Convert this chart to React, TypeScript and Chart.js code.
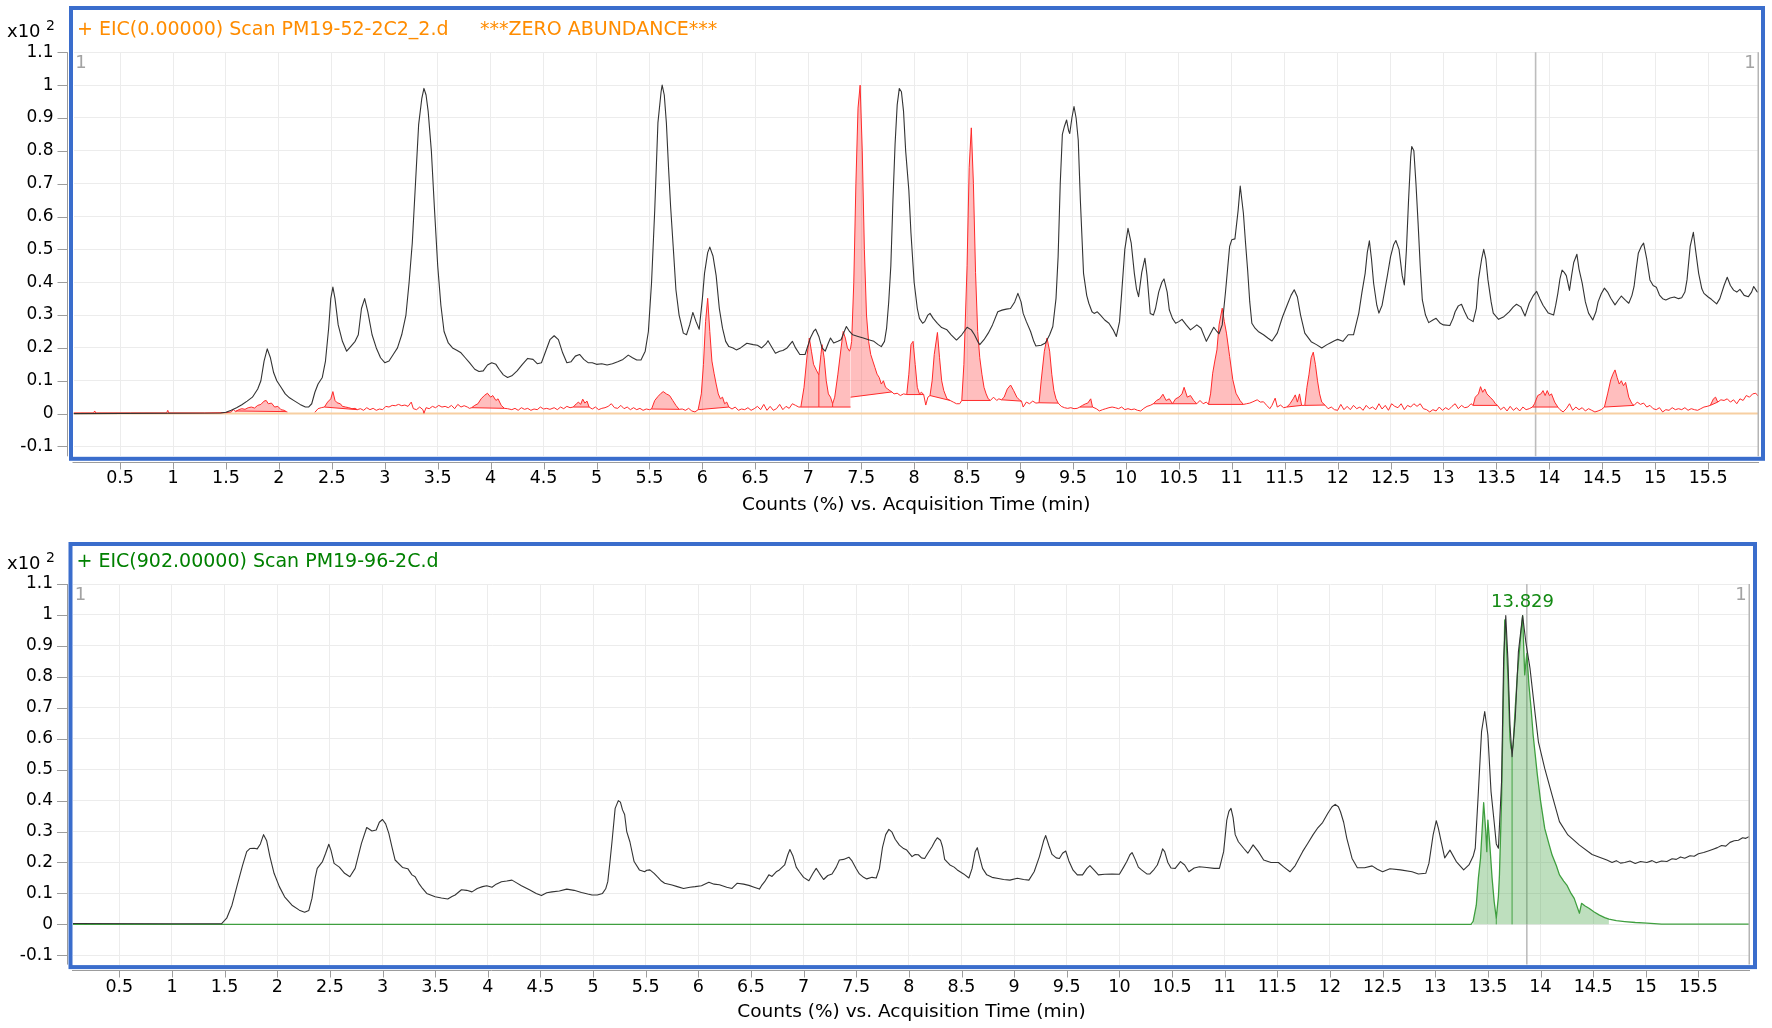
import React, { useEffect, useRef } from "react";
import { Chart, registerables } from "chart.js";

Chart.register(...registerables);

type Pt = [number, number | null];
type Integration = [number, number, number, number]; // start, end, baseline at start, baseline at end
type Drop = [number, number, number]; // time, baseline value, curve value

const FONT = '"DejaVu Sans", "Liberation Sans", Arial, sans-serif';

const xTickValues = [0.5, 1, 1.5, 2, 2.5, 3, 3.5, 4, 4.5, 5, 5.5, 6, 6.5, 7, 7.5, 8, 8.5, 9, 9.5, 10, 10.5, 11, 11.5, 12, 12.5, 13, 13.5, 14, 14.5, 15, 15.5];
const yTickValues = [-0.1, 0, 0.1, 0.2, 0.3, 0.4, 0.5, 0.6, 0.7, 0.8, 0.9, 1, 1.1];

const axisTitle = "Counts (%) vs. Acquisition Time (min)";
const topTitle = "+ EIC(0.00000) Scan PM19-52-2C2_2.d";
const topNote = "***ZERO ABUNDANCE***";
const bottomTitle = "+ EIC(902.00000) Scan PM19-96-2C.d";
const cursorTime = 13.87;
const peakLabelTime = 13.829;
const peakLabelValue = 1.042;
const peakLabelText = "13.829";

// ---------- top panel: TIC (black) ----------
const topTic: Pt[] = [
  [0.06, 0], [1.45, 0.002], [1.5, 0.004], [1.55, 0.01], [1.6, 0.018], [1.65, 0.027], [1.7, 0.038], [1.75, 0.05], [1.8, 0.075], [1.83, 0.1], [1.86, 0.16], [1.89, 0.197], [1.92, 0.17], [1.95, 0.125], [1.98, 0.1], [2.02, 0.08], [2.06, 0.06], [2.1, 0.048], [2.15, 0.038], [2.2, 0.028], [2.25, 0.02], [2.28, 0.02], [2.31, 0.03], [2.34, 0.065], [2.37, 0.09], [2.41, 0.11], [2.44, 0.16], [2.47, 0.26], [2.49, 0.35], [2.51, 0.385], [2.53, 0.35], [2.56, 0.27], [2.6, 0.22], [2.64, 0.19], [2.68, 0.205], [2.72, 0.22], [2.75, 0.24], [2.78, 0.32], [2.81, 0.35], [2.84, 0.31], [2.88, 0.24], [2.92, 0.2], [2.96, 0.17], [3.0, 0.155], [3.04, 0.16], [3.08, 0.18], [3.12, 0.2], [3.16, 0.24], [3.2, 0.3], [3.23, 0.4], [3.26, 0.52], [3.29, 0.7], [3.32, 0.88], [3.35, 0.96], [3.37, 0.99], [3.39, 0.97], [3.41, 0.92], [3.44, 0.8], [3.47, 0.62], [3.5, 0.45], [3.53, 0.33], [3.56, 0.25], [3.6, 0.215], [3.64, 0.2], [3.68, 0.193], [3.72, 0.185], [3.76, 0.17], [3.8, 0.155], [3.85, 0.135], [3.89, 0.128], [3.93, 0.13], [3.97, 0.148], [4.01, 0.155], [4.05, 0.15], [4.08, 0.135], [4.12, 0.118], [4.16, 0.11], [4.2, 0.115], [4.25, 0.13], [4.3, 0.15], [4.35, 0.168], [4.4, 0.165], [4.44, 0.152], [4.48, 0.155], [4.52, 0.19], [4.56, 0.225], [4.6, 0.237], [4.64, 0.225], [4.68, 0.185], [4.72, 0.155], [4.76, 0.158], [4.8, 0.175], [4.84, 0.18], [4.88, 0.165], [4.92, 0.155], [4.96, 0.155], [5.0, 0.15], [5.05, 0.152], [5.1, 0.148], [5.15, 0.152], [5.2, 0.158], [5.25, 0.165], [5.3, 0.178], [5.34, 0.17], [5.38, 0.163], [5.42, 0.163], [5.46, 0.19], [5.49, 0.25], [5.52, 0.4], [5.55, 0.62], [5.58, 0.885], [5.61, 0.98], [5.62, 1.0], [5.64, 0.97], [5.66, 0.885], [5.68, 0.75], [5.7, 0.63], [5.73, 0.48], [5.75, 0.377], [5.78, 0.3], [5.82, 0.245], [5.85, 0.24], [5.88, 0.27], [5.91, 0.308], [5.94, 0.28], [5.97, 0.257], [6.0, 0.35], [6.02, 0.427], [6.05, 0.49], [6.07, 0.507], [6.1, 0.48], [6.13, 0.42], [6.16, 0.32], [6.19, 0.26], [6.22, 0.22], [6.25, 0.204], [6.29, 0.2], [6.32, 0.194], [6.36, 0.2], [6.42, 0.214], [6.48, 0.21], [6.52, 0.208], [6.56, 0.2], [6.6, 0.212], [6.62, 0.222], [6.66, 0.2], [6.69, 0.184], [6.73, 0.19], [6.76, 0.192], [6.8, 0.2], [6.85, 0.22], [6.88, 0.2], [6.92, 0.18], [6.97, 0.18], [7.0, 0.21], [7.02, 0.23], [7.05, 0.25], [7.07, 0.257], [7.1, 0.235], [7.13, 0.2], [7.16, 0.19], [7.19, 0.215], [7.21, 0.23], [7.24, 0.215], [7.28, 0.22], [7.31, 0.225], [7.34, 0.25], [7.36, 0.265], [7.39, 0.25], [7.42, 0.24], [7.47, 0.235], [7.52, 0.23], [7.57, 0.225], [7.62, 0.22], [7.66, 0.21], [7.69, 0.204], [7.72, 0.22], [7.74, 0.26], [7.76, 0.34], [7.78, 0.45], [7.8, 0.65], [7.82, 0.82], [7.84, 0.94], [7.86, 0.99], [7.88, 0.98], [7.9, 0.92], [7.92, 0.8], [7.95, 0.68], [7.97, 0.55], [8.0, 0.4], [8.03, 0.32], [8.05, 0.29], [8.08, 0.275], [8.1, 0.28], [8.13, 0.3], [8.15, 0.305], [8.18, 0.29], [8.22, 0.275], [8.26, 0.262], [8.31, 0.255], [8.35, 0.24], [8.4, 0.224], [8.45, 0.24], [8.5, 0.263], [8.54, 0.255], [8.57, 0.24], [8.6, 0.22], [8.62, 0.21], [8.66, 0.225], [8.7, 0.245], [8.74, 0.27], [8.79, 0.31], [8.83, 0.315], [8.87, 0.318], [8.91, 0.32], [8.95, 0.34], [8.98, 0.366], [9.01, 0.34], [9.03, 0.305], [9.06, 0.28], [9.1, 0.25], [9.13, 0.22], [9.15, 0.206], [9.2, 0.208], [9.24, 0.215], [9.28, 0.24], [9.31, 0.265], [9.34, 0.35], [9.36, 0.478], [9.38, 0.7], [9.4, 0.85], [9.42, 0.875], [9.44, 0.894], [9.46, 0.86], [9.47, 0.853], [9.49, 0.9], [9.51, 0.935], [9.53, 0.9], [9.55, 0.833], [9.57, 0.65], [9.6, 0.427], [9.63, 0.36], [9.65, 0.336], [9.68, 0.31], [9.7, 0.305], [9.73, 0.31], [9.76, 0.3], [9.8, 0.285], [9.84, 0.275], [9.88, 0.255], [9.91, 0.235], [9.94, 0.28], [9.96, 0.366], [9.99, 0.5], [10.02, 0.564], [10.05, 0.52], [10.08, 0.427], [10.1, 0.38], [10.12, 0.356], [10.15, 0.43], [10.18, 0.473], [10.2, 0.42], [10.23, 0.305], [10.26, 0.3], [10.28, 0.32], [10.31, 0.37], [10.34, 0.4], [10.36, 0.41], [10.39, 0.37], [10.41, 0.316], [10.44, 0.29], [10.47, 0.275], [10.5, 0.28], [10.53, 0.287], [10.57, 0.27], [10.61, 0.255], [10.65, 0.265], [10.67, 0.27], [10.71, 0.26], [10.76, 0.22], [10.8, 0.245], [10.83, 0.263], [10.86, 0.25], [10.88, 0.243], [10.91, 0.27], [10.94, 0.367], [10.98, 0.509], [11.0, 0.529], [11.03, 0.532], [11.06, 0.618], [11.08, 0.693], [11.11, 0.61], [11.13, 0.52], [11.15, 0.437], [11.17, 0.34], [11.19, 0.275], [11.22, 0.26], [11.25, 0.25], [11.3, 0.24], [11.34, 0.23], [11.38, 0.221], [11.43, 0.245], [11.48, 0.295], [11.53, 0.336], [11.56, 0.36], [11.59, 0.377], [11.62, 0.355], [11.65, 0.3], [11.69, 0.245], [11.75, 0.219], [11.8, 0.21], [11.85, 0.2], [11.9, 0.21], [11.93, 0.215], [11.97, 0.222], [12.0, 0.226], [12.05, 0.22], [12.1, 0.24], [12.15, 0.24], [12.2, 0.306], [12.23, 0.37], [12.26, 0.427], [12.28, 0.49], [12.3, 0.526], [12.32, 0.47], [12.34, 0.397], [12.37, 0.33], [12.39, 0.306], [12.42, 0.33], [12.44, 0.366], [12.47, 0.42], [12.5, 0.478], [12.53, 0.515], [12.55, 0.527], [12.58, 0.5], [12.61, 0.42], [12.63, 0.392], [12.65, 0.5], [12.67, 0.65], [12.69, 0.78], [12.7, 0.813], [12.72, 0.8], [12.74, 0.7], [12.76, 0.58], [12.78, 0.45], [12.8, 0.346], [12.83, 0.3], [12.86, 0.277], [12.9, 0.285], [12.93, 0.29], [12.97, 0.275], [13.0, 0.27], [13.06, 0.268], [13.09, 0.29], [13.11, 0.31], [13.14, 0.328], [13.17, 0.333], [13.2, 0.31], [13.23, 0.29], [13.28, 0.28], [13.31, 0.32], [13.33, 0.407], [13.36, 0.47], [13.38, 0.5], [13.4, 0.47], [13.42, 0.407], [13.45, 0.34], [13.47, 0.306], [13.52, 0.287], [13.57, 0.295], [13.62, 0.31], [13.66, 0.325], [13.69, 0.333], [13.73, 0.325], [13.77, 0.297], [13.81, 0.336], [13.85, 0.36], [13.88, 0.372], [13.91, 0.35], [13.94, 0.33], [13.99, 0.306], [14.04, 0.3], [14.06, 0.33], [14.08, 0.366], [14.1, 0.41], [14.12, 0.437], [14.14, 0.43], [14.16, 0.42], [14.19, 0.375], [14.21, 0.42], [14.23, 0.46], [14.26, 0.485], [14.28, 0.44], [14.31, 0.397], [14.34, 0.34], [14.37, 0.306], [14.41, 0.285], [14.44, 0.31], [14.46, 0.34], [14.49, 0.365], [14.52, 0.382], [14.55, 0.37], [14.58, 0.351], [14.62, 0.331], [14.65, 0.345], [14.68, 0.358], [14.72, 0.345], [14.75, 0.336], [14.78, 0.36], [14.8, 0.387], [14.82, 0.44], [14.84, 0.488], [14.87, 0.51], [14.89, 0.519], [14.92, 0.47], [14.95, 0.407], [14.98, 0.39], [15.01, 0.385], [15.04, 0.361], [15.07, 0.35], [15.1, 0.346], [15.14, 0.352], [15.18, 0.355], [15.22, 0.35], [15.25, 0.353], [15.28, 0.37], [15.3, 0.407], [15.33, 0.509], [15.36, 0.552], [15.38, 0.5], [15.41, 0.427], [15.44, 0.38], [15.46, 0.366], [15.5, 0.355], [15.53, 0.348], [15.58, 0.334], [15.61, 0.35], [15.65, 0.39], [15.68, 0.415], [15.71, 0.39], [15.74, 0.376], [15.77, 0.37], [15.8, 0.378], [15.84, 0.36], [15.88, 0.356], [15.91, 0.37], [15.93, 0.387], [15.96, 0.372], [15.98, 0.368],
];

// ---------- top panel: EIC (red) ----------
const topEic: Pt[] = [
  [0.06, 0.002], [0.25, 0.002], [0.26, 0.008], [0.27, 0.002], [0.6, 0.002], [0.94, 0.002], [0.95, 0.01], [0.96, 0.002], [1.3, 0.002], [1.5, 0.003],
  [1.55, 0.005], [1.57, 0.012], [1.59, 0.006], [1.62, 0.012], [1.65, 0.015], [1.68, 0.013], [1.71, 0.018], [1.74, 0.02], [1.77, 0.017], [1.8, 0.025], [1.83, 0.028], [1.86, 0.038], [1.88, 0.04], [1.9, 0.03], [1.93, 0.032], [1.96, 0.02], [1.99, 0.022], [2.02, 0.012], [2.05, 0.01], [2.07, 0.006], [2.08, 0.005],
  [2.2, null],
  [2.34, 0.004], [2.37, 0.015], [2.4, 0.018], [2.43, 0.02], [2.46, 0.035], [2.49, 0.045], [2.51, 0.067], [2.53, 0.04], [2.55, 0.033], [2.58, 0.03], [2.6, 0.022], [2.63, 0.02], [2.66, 0.018], [2.69, 0.015], [2.72, 0.016], [2.74, 0.012], [2.77, 0.015], [2.8, 0.01], [2.83, 0.018], [2.86, 0.012], [2.89, 0.016], [2.92, 0.01], [2.95, 0.014], [2.98, 0.012], [3.01, 0.022], [3.04, 0.02], [3.07, 0.025], [3.1, 0.024], [3.13, 0.028], [3.16, 0.024], [3.19, 0.026], [3.22, 0.022], [3.25, 0.035], [3.27, 0.015], [3.3, 0.012], [3.33, 0.02], [3.36, 0.012], [3.37, 0.001], [3.39, 0.018], [3.42, 0.015], [3.45, 0.022], [3.48, 0.018], [3.51, 0.025], [3.54, 0.02], [3.57, 0.022], [3.6, 0.018], [3.63, 0.025], [3.66, 0.015], [3.69, 0.028], [3.72, 0.02], [3.75, 0.024], [3.78, 0.02], [3.8, 0.016], [3.82, 0.018],
  [3.85, 0.025], [3.88, 0.03], [3.91, 0.045], [3.94, 0.055], [3.97, 0.062], [4.0, 0.05], [4.02, 0.055], [4.05, 0.04], [4.07, 0.045], [4.1, 0.025], [4.13, 0.016],
  [4.16, 0.015], [4.2, 0.012], [4.23, 0.016], [4.26, 0.01], [4.29, 0.018], [4.32, 0.013], [4.35, 0.016], [4.38, 0.01], [4.41, 0.014], [4.44, 0.012], [4.47, 0.02], [4.5, 0.014], [4.53, 0.016], [4.56, 0.013], [4.6, 0.018], [4.63, 0.012], [4.66, 0.02], [4.69, 0.015], [4.72, 0.022], [4.75, 0.018], [4.78, 0.02],
  [4.81, 0.03], [4.83, 0.035], [4.85, 0.028], [4.87, 0.044], [4.89, 0.032], [4.91, 0.038], [4.93, 0.02],
  [4.96, 0.014], [4.99, 0.02], [5.02, 0.012], [5.05, 0.016], [5.08, 0.018], [5.11, 0.022], [5.14, 0.03], [5.17, 0.018], [5.2, 0.016], [5.23, 0.025], [5.26, 0.015], [5.29, 0.02], [5.32, 0.012], [5.35, 0.018], [5.38, 0.012], [5.41, 0.016], [5.44, 0.01], [5.47, 0.014], [5.5, 0.012], [5.52, 0.014],
  [5.55, 0.04], [5.58, 0.052], [5.61, 0.062], [5.63, 0.067], [5.66, 0.06], [5.69, 0.055], [5.72, 0.04], [5.75, 0.025], [5.78, 0.013],
  [5.81, 0.014], [5.84, 0.01], [5.87, 0.016], [5.9, 0.008], [5.93, 0.005],
  [5.96, 0.012], [5.99, 0.06], [6.01, 0.15], [6.03, 0.28], [6.05, 0.351], [6.07, 0.25], [6.09, 0.16], [6.11, 0.123], [6.13, 0.09], [6.15, 0.06], [6.17, 0.045], [6.19, 0.05], [6.21, 0.03], [6.23, 0.035], [6.25, 0.02],
  [6.28, 0.014], [6.31, 0.02], [6.34, 0.01], [6.37, 0.014], [6.4, 0.012], [6.43, 0.018], [6.46, 0.01], [6.49, 0.015], [6.52, 0.022], [6.55, 0.012], [6.58, 0.028], [6.61, 0.01], [6.64, 0.022], [6.67, 0.01], [6.7, 0.015], [6.73, 0.028], [6.76, 0.012], [6.79, 0.022], [6.82, 0.016], [6.85, 0.03], [6.88, 0.025], [6.91, 0.02], [6.93, 0.02],
  [6.96, 0.08], [6.99, 0.18], [7.01, 0.23], [7.03, 0.19], [7.05, 0.15], [7.08, 0.13], [7.1, 0.118], [7.12, 0.18], [7.13, 0.21], [7.15, 0.17], [7.17, 0.1], [7.19, 0.06], [7.21, 0.05], [7.23, 0.03], [7.25, 0.05], [7.28, 0.12], [7.31, 0.2], [7.33, 0.25], [7.35, 0.23], [7.37, 0.2], [7.39, 0.19], [7.4, 0.2],
  [7.41, 0.22], [7.43, 0.4], [7.45, 0.7], [7.47, 0.93], [7.49, 1.0], [7.51, 0.8], [7.53, 0.5], [7.55, 0.3], [7.57, 0.22], [7.59, 0.18], [7.61, 0.16], [7.63, 0.14], [7.65, 0.12], [7.67, 0.11], [7.69, 0.09], [7.71, 0.1], [7.73, 0.08], [7.75, 0.075], [7.77, 0.07], [7.79, 0.066],
  [7.81, 0.06], [7.84, 0.062], [7.87, 0.055], [7.9, 0.06], [7.93, 0.058],
  [7.95, 0.12], [7.97, 0.21], [7.99, 0.22], [8.01, 0.15], [8.03, 0.08], [8.05, 0.06], [8.07, 0.065], [8.09, 0.058],
  [8.11, 0.026], [8.13, 0.05], [8.15, 0.055],
  [8.17, 0.1], [8.19, 0.18], [8.22, 0.247], [8.24, 0.17], [8.26, 0.1], [8.28, 0.07], [8.31, 0.045], [8.34, 0.04],
  [8.37, 0.035], [8.4, 0.03], [8.43, 0.03], [8.45, 0.04],
  [8.47, 0.15], [8.5, 0.45], [8.52, 0.75], [8.54, 0.87], [8.56, 0.7], [8.58, 0.43], [8.6, 0.25], [8.62, 0.17], [8.64, 0.12], [8.66, 0.08], [8.68, 0.06], [8.7, 0.045], [8.72, 0.04],
  [8.75, 0.05], [8.78, 0.04], [8.8, 0.045], [8.825, 0.042],
  [8.85, 0.05], [8.88, 0.075], [8.911, 0.087], [8.94, 0.07], [8.97, 0.05], [9.0, 0.04], [9.014, 0.038],
  [9.03, 0.02], [9.06, 0.035], [9.09, 0.03], [9.12, 0.038], [9.15, 0.032], [9.18, 0.033],
  [9.2, 0.1], [9.23, 0.19], [9.255, 0.23], [9.28, 0.19], [9.3, 0.12], [9.32, 0.07], [9.34, 0.045], [9.36, 0.032],
  [9.39, 0.022], [9.42, 0.018], [9.45, 0.016], [9.48, 0.018], [9.51, 0.015], [9.54, 0.016], [9.565, 0.02],
  [9.59, 0.025], [9.62, 0.03], [9.64, 0.032], [9.668, 0.045], [9.685, 0.02],
  [9.72, 0.015], [9.75, 0.008], [9.78, 0.012], [9.81, 0.015], [9.84, 0.018], [9.87, 0.02], [9.9, 0.018], [9.93, 0.015], [9.96, 0.02], [9.99, 0.012], [10.02, 0.015], [10.05, 0.012], [10.08, 0.014], [10.11, 0.01], [10.14, 0.008], [10.17, 0.016], [10.2, 0.022], [10.23, 0.025], [10.26, 0.03],
  [10.29, 0.04], [10.32, 0.045], [10.35, 0.059], [10.38, 0.04], [10.41, 0.045], [10.44, 0.03], [10.47, 0.045], [10.5, 0.05], [10.53, 0.06], [10.55, 0.08], [10.58, 0.05], [10.61, 0.055], [10.64, 0.04], [10.67, 0.03],
  [10.7, 0.04], [10.73, 0.03], [10.76, 0.035], [10.78, 0.028],
  [10.8, 0.06], [10.82, 0.123], [10.84, 0.16], [10.86, 0.194], [10.88, 0.27], [10.91, 0.321], [10.93, 0.28], [10.95, 0.245], [10.98, 0.174], [11.01, 0.103], [11.04, 0.062], [11.08, 0.039], [11.11, 0.028],
  [11.14, 0.03], [11.17, 0.032], [11.2, 0.036], [11.24, 0.042], [11.27, 0.035], [11.3, 0.036], [11.33, 0.025], [11.36, 0.015], [11.38, 0.025], [11.41, 0.047], [11.43, 0.02], [11.46, 0.026], [11.49, 0.018], [11.52, 0.02],
  [11.55, 0.03], [11.58, 0.045], [11.6, 0.057], [11.62, 0.035], [11.64, 0.06], [11.66, 0.025],
  [11.69, 0.025], [11.71, 0.08], [11.73, 0.12], [11.75, 0.17], [11.77, 0.187], [11.79, 0.15], [11.81, 0.1], [11.83, 0.06], [11.85, 0.035], [11.88, 0.026],
  [11.91, 0.015], [11.94, 0.02], [11.97, 0.012], [12.0, 0.01], [12.03, 0.028], [12.06, 0.012], [12.09, 0.022], [12.12, 0.012], [12.15, 0.025], [12.18, 0.015], [12.21, 0.02], [12.24, 0.01], [12.27, 0.025], [12.3, 0.015], [12.33, 0.02], [12.36, 0.012], [12.39, 0.03], [12.42, 0.014], [12.45, 0.025], [12.48, 0.01], [12.51, 0.03], [12.54, 0.022], [12.57, 0.018], [12.6, 0.03], [12.63, 0.012], [12.66, 0.025], [12.69, 0.02], [12.72, 0.03], [12.75, 0.022], [12.78, 0.03], [12.81, 0.015], [12.84, 0.012], [12.87, 0.005], [12.9, 0.012], [12.93, 0.008], [12.96, 0.02], [12.99, 0.01], [13.02, 0.018], [13.05, 0.012], [13.08, 0.022], [13.11, 0.03], [13.14, 0.015], [13.17, 0.025], [13.2, 0.018], [13.23, 0.02], [13.26, 0.03], [13.28, 0.025],
  [13.3, 0.05], [13.33, 0.06], [13.35, 0.082], [13.37, 0.065], [13.39, 0.075], [13.41, 0.06], [13.44, 0.05], [13.47, 0.04], [13.49, 0.03], [13.51, 0.025],
  [13.54, 0.012], [13.57, 0.02], [13.6, 0.008], [13.63, 0.022], [13.66, 0.01], [13.69, 0.018], [13.72, 0.008], [13.75, 0.02], [13.78, 0.012], [13.81, 0.015], [13.84, 0.02],
  [13.86, 0.03], [13.89, 0.055], [13.92, 0.06], [13.94, 0.07], [13.96, 0.055], [13.98, 0.07], [14.0, 0.055], [14.02, 0.06], [14.05, 0.035], [14.08, 0.02],
  [14.1, 0.012], [14.13, 0.005], [14.16, 0.015], [14.19, 0.03], [14.22, 0.01], [14.25, 0.02], [14.28, 0.012], [14.31, 0.018], [14.34, 0.008], [14.37, 0.015], [14.4, 0.01], [14.43, 0.005], [14.46, 0.008], [14.49, 0.012], [14.52, 0.02],
  [14.55, 0.06], [14.58, 0.103], [14.6, 0.12], [14.62, 0.133], [14.64, 0.11], [14.66, 0.09], [14.68, 0.1], [14.7, 0.085], [14.72, 0.095], [14.75, 0.05], [14.78, 0.03], [14.8, 0.025],
  [14.83, 0.035], [14.86, 0.028], [14.89, 0.032], [14.92, 0.02], [14.95, 0.025], [14.98, 0.015], [15.01, 0.012], [15.04, 0.018], [15.07, 0.005], [15.1, 0.012], [15.13, 0.01], [15.16, 0.018], [15.19, 0.012], [15.22, 0.015], [15.25, 0.012], [15.28, 0.018], [15.31, 0.01], [15.34, 0.015], [15.37, 0.012], [15.4, 0.01], [15.43, 0.015], [15.46, 0.02], [15.49, 0.022],
  [15.52, 0.025], [15.55, 0.045], [15.57, 0.05], [15.59, 0.035],
  [15.62, 0.042], [15.65, 0.04], [15.68, 0.045], [15.71, 0.035], [15.74, 0.042], [15.77, 0.03], [15.8, 0.045], [15.83, 0.04], [15.86, 0.055], [15.89, 0.05], [15.92, 0.06], [15.95, 0.062], [15.98, 0.05],
];

// zero-abundance trace (orange)
const topZero: Pt[] = [[0.06, 0], [15.98, 0]];

const topIntegrations: Integration[] = [
  [1.59, 2.07, 0.008, 0.006], [2.43, 2.74, 0.02, 0.012], [3.82, 4.13, 0.018, 0.016], [4.78, 4.93, 0.02, 0.02],
  [5.52, 5.78, 0.014, 0.013], [5.96, 6.25, 0.012, 0.02], [6.93, 7.1, 0.02, 0.02], [7.1, 7.23, 0.02, 0.02],
  [7.23, 7.4, 0.02, 0.02], [7.4, 7.79, 0.05, 0.066], [7.93, 8.09, 0.058, 0.058], [8.15, 8.34, 0.055, 0.04],
  [8.45, 8.72, 0.04, 0.04], [8.825, 9.014, 0.042, 0.038], [9.18, 9.36, 0.033, 0.032], [9.565, 9.685, 0.02, 0.02],
  [10.26, 10.44, 0.03, 0.03], [10.44, 10.67, 0.03, 0.03], [10.78, 11.11, 0.028, 0.028], [11.52, 11.66, 0.02, 0.025],
  [11.69, 11.88, 0.025, 0.026], [13.28, 13.51, 0.025, 0.025], [13.84, 14.08, 0.02, 0.02], [14.52, 14.8, 0.02, 0.025],
  [15.52, 15.59, 0.025, 0.035],
];
const topDrops: Drop[] = [[7.1, 0.02, 0.118], [7.23, 0.02, 0.03]];

// ---------- bottom panel: TIC (black) ----------
const bottomTic: Pt[] = [
  [0.06, 0.003], [1.0, 0.002], [1.47, 0.002], [1.52, 0.02], [1.57, 0.062], [1.62, 0.127], [1.67, 0.19], [1.71, 0.235], [1.74, 0.245], [1.78, 0.246], [1.81, 0.244], [1.84, 0.26], [1.87, 0.29], [1.9, 0.27], [1.93, 0.22], [1.97, 0.165], [2.02, 0.122], [2.07, 0.089], [2.14, 0.062], [2.21, 0.046], [2.26, 0.039], [2.3, 0.045], [2.33, 0.084], [2.36, 0.15], [2.38, 0.181], [2.43, 0.203], [2.46, 0.23], [2.49, 0.259], [2.51, 0.24], [2.54, 0.197], [2.59, 0.185], [2.64, 0.165], [2.69, 0.154], [2.74, 0.181], [2.8, 0.262], [2.85, 0.313], [2.9, 0.302], [2.94, 0.305], [2.97, 0.33], [3.0, 0.339], [3.03, 0.325], [3.06, 0.294], [3.09, 0.25], [3.12, 0.208], [3.19, 0.184], [3.24, 0.18], [3.28, 0.16], [3.31, 0.154], [3.35, 0.13], [3.38, 0.116], [3.42, 0.1], [3.5, 0.089], [3.56, 0.085], [3.62, 0.082], [3.66, 0.09], [3.69, 0.095], [3.75, 0.112], [3.8, 0.11], [3.85, 0.105], [3.9, 0.116], [3.95, 0.122], [3.99, 0.125], [4.04, 0.12], [4.08, 0.13], [4.13, 0.138], [4.18, 0.14], [4.23, 0.143], [4.27, 0.135], [4.32, 0.125], [4.4, 0.111], [4.46, 0.1], [4.51, 0.093], [4.56, 0.102], [4.61, 0.105], [4.68, 0.108], [4.75, 0.114], [4.82, 0.11], [4.89, 0.103], [4.95, 0.098], [4.99, 0.095], [5.04, 0.095], [5.09, 0.1], [5.12, 0.115], [5.14, 0.138], [5.16, 0.2], [5.18, 0.267], [5.21, 0.375], [5.24, 0.4], [5.26, 0.395], [5.28, 0.37], [5.3, 0.355], [5.32, 0.3], [5.35, 0.267], [5.39, 0.203], [5.44, 0.176], [5.49, 0.17], [5.51, 0.175], [5.54, 0.176], [5.58, 0.165], [5.61, 0.154], [5.65, 0.14], [5.68, 0.133], [5.75, 0.127], [5.8, 0.122], [5.86, 0.116], [5.92, 0.12], [5.97, 0.122], [6.03, 0.125], [6.1, 0.136], [6.15, 0.13], [6.2, 0.128], [6.27, 0.12], [6.32, 0.116], [6.37, 0.133], [6.43, 0.13], [6.48, 0.126], [6.53, 0.12], [6.58, 0.114], [6.6, 0.125], [6.63, 0.138], [6.67, 0.16], [6.7, 0.155], [6.74, 0.17], [6.77, 0.176], [6.82, 0.192], [6.85, 0.225], [6.87, 0.242], [6.9, 0.22], [6.93, 0.185], [6.96, 0.17], [7.0, 0.152], [7.05, 0.141], [7.09, 0.165], [7.12, 0.181], [7.15, 0.165], [7.19, 0.145], [7.23, 0.158], [7.27, 0.163], [7.31, 0.185], [7.34, 0.208], [7.38, 0.21], [7.43, 0.217], [7.46, 0.205], [7.5, 0.18], [7.53, 0.163], [7.57, 0.152], [7.6, 0.147], [7.65, 0.152], [7.69, 0.15], [7.72, 0.18], [7.75, 0.25], [7.78, 0.29], [7.81, 0.307], [7.84, 0.298], [7.87, 0.275], [7.91, 0.256], [7.95, 0.245], [7.98, 0.24], [8.03, 0.219], [8.06, 0.226], [8.09, 0.225], [8.12, 0.215], [8.15, 0.213], [8.18, 0.23], [8.22, 0.251], [8.25, 0.27], [8.27, 0.28], [8.3, 0.272], [8.32, 0.25], [8.34, 0.21], [8.39, 0.192], [8.43, 0.185], [8.46, 0.176], [8.52, 0.163], [8.57, 0.15], [8.6, 0.18], [8.63, 0.235], [8.65, 0.248], [8.67, 0.22], [8.7, 0.181], [8.74, 0.16], [8.79, 0.152], [8.85, 0.148], [8.9, 0.145], [8.96, 0.143], [9.03, 0.149], [9.09, 0.145], [9.14, 0.143], [9.19, 0.17], [9.24, 0.219], [9.28, 0.27], [9.3, 0.287], [9.33, 0.255], [9.36, 0.226], [9.4, 0.215], [9.43, 0.213], [9.46, 0.23], [9.49, 0.237], [9.52, 0.205], [9.56, 0.175], [9.6, 0.16], [9.65, 0.16], [9.69, 0.18], [9.72, 0.19], [9.76, 0.175], [9.8, 0.16], [9.86, 0.162], [9.93, 0.163], [10.0, 0.162], [10.04, 0.185], [10.07, 0.203], [10.1, 0.225], [10.12, 0.232], [10.15, 0.21], [10.18, 0.185], [10.21, 0.176], [10.26, 0.163], [10.29, 0.163], [10.33, 0.178], [10.36, 0.192], [10.39, 0.22], [10.41, 0.244], [10.43, 0.235], [10.46, 0.2], [10.49, 0.182], [10.53, 0.181], [10.58, 0.203], [10.62, 0.192], [10.66, 0.17], [10.71, 0.182], [10.76, 0.186], [10.83, 0.184], [10.9, 0.181], [10.95, 0.181], [10.99, 0.235], [11.02, 0.337], [11.04, 0.365], [11.06, 0.375], [11.08, 0.345], [11.1, 0.29], [11.13, 0.267], [11.18, 0.246], [11.22, 0.23], [11.27, 0.257], [11.32, 0.235], [11.37, 0.208], [11.44, 0.2], [11.51, 0.2], [11.56, 0.186], [11.62, 0.17], [11.67, 0.19], [11.74, 0.235], [11.79, 0.262], [11.84, 0.29], [11.88, 0.31], [11.93, 0.329], [11.98, 0.359], [12.02, 0.38], [12.05, 0.388], [12.08, 0.38], [12.1, 0.364], [12.13, 0.33], [12.16, 0.278], [12.21, 0.213], [12.26, 0.183], [12.33, 0.183], [12.4, 0.189], [12.45, 0.178], [12.5, 0.17], [12.57, 0.18], [12.67, 0.176], [12.78, 0.17], [12.84, 0.163], [12.91, 0.165], [12.94, 0.197], [12.98, 0.289], [13.01, 0.335], [13.03, 0.31], [13.05, 0.278], [13.09, 0.215], [13.14, 0.24], [13.2, 0.203], [13.27, 0.176], [13.32, 0.192], [13.36, 0.22], [13.38, 0.246], [13.41, 0.429], [13.44, 0.623], [13.47, 0.688], [13.5, 0.612], [13.53, 0.429], [13.56, 0.33], [13.58, 0.26], [13.6, 0.246], [13.63, 0.461], [13.65, 0.86], [13.67, 0.998], [13.69, 0.86], [13.71, 0.644], [13.73, 0.542], [13.76, 0.666], [13.79, 0.881], [13.83, 0.998], [13.86, 0.914], [13.9, 0.828], [13.95, 0.677], [13.98, 0.59], [14.04, 0.504], [14.11, 0.418], [14.18, 0.332], [14.26, 0.289], [14.37, 0.256], [14.49, 0.226], [14.63, 0.208], [14.68, 0.2], [14.72, 0.206], [14.76, 0.198], [14.8, 0.2], [14.85, 0.205], [14.9, 0.197], [14.95, 0.203], [15.01, 0.2], [15.06, 0.206], [15.1, 0.199], [15.15, 0.205], [15.2, 0.203], [15.25, 0.212], [15.29, 0.21], [15.33, 0.218], [15.37, 0.214], [15.42, 0.222], [15.46, 0.22], [15.5, 0.228], [15.55, 0.232], [15.6, 0.238], [15.64, 0.243], [15.68, 0.248], [15.72, 0.255], [15.76, 0.253], [15.8, 0.265], [15.84, 0.27], [15.88, 0.272], [15.92, 0.28], [15.95, 0.278], [15.99, 0.285],
];

// ---------- bottom panel: EIC 902 (green) ----------
const bottomEic: Pt[] = [
  [0.06, 0], [13.34, 0], [13.36, 0.01], [13.39, 0.062], [13.41, 0.15], [13.43, 0.213], [13.46, 0.393], [13.48, 0.3], [13.49, 0.235], [13.5, 0.337], [13.52, 0.25], [13.54, 0.15], [13.56, 0.073], [13.58, 0.02], [13.6, 0.09], [13.61, 0.16], [13.63, 0.4], [13.64, 0.59], [13.66, 0.984], [13.67, 0.95], [13.69, 0.806], [13.71, 0.6], [13.72, 0.569], [13.73, 0.56], [13.74, 0.58], [13.76, 0.7], [13.78, 0.806], [13.81, 0.925], [13.83, 0.998], [13.85, 0.806], [13.87, 0.876], [13.89, 0.774], [13.91, 0.7], [13.93, 0.612], [13.97, 0.483], [14.0, 0.4], [14.04, 0.31], [14.08, 0.26], [14.11, 0.224], [14.15, 0.19], [14.18, 0.16], [14.22, 0.14], [14.25, 0.127], [14.29, 0.1], [14.32, 0.084], [14.35, 0.055], [14.37, 0.036], [14.39, 0.068], [14.42, 0.06], [14.46, 0.052], [14.51, 0.04], [14.56, 0.03], [14.61, 0.022], [14.65, 0.017], [14.72, 0.012], [14.8, 0.009], [14.9, 0.006], [15.01, 0.004], [15.15, 0.001], [15.99, 0.001],
];
const bottomZero: Pt[] = [];
const bottomIntegrations: Integration[] = [[13.36, 13.58, 0, 0], [13.58, 13.73, 0, 0], [13.73, 14.65, 0, 0]];
const bottomDrops: Drop[] = [[13.58, 0, 0.02], [13.73, 0, 0.56]];

interface PanelSpec {
  tic: Pt[];
  eic: Pt[];
  zero: Pt[];
  integrations: Integration[];
  drops: Drop[];
  eicColor: string;
  eicWidth: number;
  fillColor: string;
  zeroColor: string;
  title: string;
  titleColor: string;
  note?: string;
  noteX?: number;
  peakLabel?: boolean;
  xMin: number;
  xMax: number;
  padTop: number;
  padRight: number;
  yWidth: number;
  xHeight: number;
  frameTop: number;
  frameRight: number;
  titlePad: number;
  height: number;
}

const toXY = (pts: Pt[]) => pts.map(([x, y]) => ({ x, y }));
const fmt = (v: number | string) => String(Math.round(Number(v) * 10) / 10);

function buildDatasets(s: PanelSpec) {
  const ds: any[] = [];
  const base = { pointRadius: 0, pointHoverRadius: 0, pointHitRadius: 0, tension: 0, fill: false, spanGaps: false };
  ds.push({ ...base, data: toXY(s.tic), borderColor: "#333333", borderWidth: 1.1, order: 0 });
  ds.push({ ...base, data: toXY(s.eic), borderColor: s.eicColor, borderWidth: s.eicWidth, order: 1 });
  for (const [t0, t1, b0, b1] of s.integrations) {
    const seg = s.eic.filter(([t, v]) => v !== null && t >= t0 - 1e-6 && t <= t1 + 1e-6);
    const baseIndex = ds.length + 1;
    ds.push({ ...base, data: toXY(seg), borderWidth: 0, borderColor: "rgba(0,0,0,0)", backgroundColor: s.fillColor, fill: baseIndex, order: 3 });
    ds.push({ ...base, data: [{ x: t0, y: b0 }, { x: t1, y: b1 }], borderColor: s.eicColor, borderWidth: b0 === 0 && b1 === 0 ? 0 : 1, order: 2 });
  }
  for (const [t, b, v] of s.drops) {
    ds.push({ ...base, data: [{ x: t, y: b }, { x: t, y: v }], borderColor: s.eicColor, borderWidth: 1, order: 2 });
  }
  if (s.zero.length) {
    ds.push({ ...base, data: toXY(s.zero), borderColor: s.zeroColor, borderWidth: 2, order: 4 });
  }
  ds.push({ ...base, data: [{ x: cursorTime, y: -0.2 }, { x: cursorTime, y: 1.2 }], borderColor: "#bdbdbd", borderWidth: 1.6, order: 5 });
  return ds;
}

function decorPlugin(s: PanelSpec) {
  return {
    id: "decor",
    afterDraw(chart: any) {
      const { ctx, chartArea: ca } = chart;
      const xs = chart.scales.x;
      const ys = chart.scales.y;
      ctx.save();
      // axis lines and tick marks
      ctx.strokeStyle = "#9c9c9c";
      ctx.lineWidth = 1;
      ctx.beginPath();
      const axX = Math.round(ca.left - 6.5) + 0.5;
      ctx.moveTo(axX, ca.top);
      ctx.lineTo(axX, ca.bottom);
      for (const v of yTickValues) {
        const py = Math.round(ys.getPixelForValue(v)) + 0.5;
        ctx.moveTo(ca.left - 16, py);
        ctx.lineTo(axX, py);
      }
      const axY = Math.round(ca.bottom + 5.5) + 0.5;
      ctx.moveTo(ca.left - 1, axY);
      ctx.lineTo(ca.right, axY);
      for (const v of xTickValues) {
        const px = Math.round(xs.getPixelForValue(v)) + 0.5;
        ctx.moveTo(px, axY);
        ctx.lineTo(px, axY + 7);
      }
      ctx.stroke();
      // right edge of plot
      ctx.strokeStyle = "#b5b5b5";
      ctx.lineWidth = 1.5;
      ctx.beginPath();
      ctx.moveTo(ca.right - 0.75, ca.top);
      ctx.lineTo(ca.right - 0.75, ca.bottom);
      ctx.stroke();
      // blue frame
      ctx.strokeStyle = "#3a6dcc";
      ctx.lineWidth = 4;
      const fl = ca.left - 2.5;
      const fr = ca.right + s.frameRight;
      const fb = ca.bottom + 2.5;
      ctx.strokeRect(fl, s.frameTop, fr - fl, fb - s.frameTop);
      // texts
      ctx.textBaseline = "middle";
      ctx.textAlign = "left";
      ctx.fillStyle = "#000";
      ctx.font = `18px ${FONT}`;
      ctx.fillText("x10", 7, ca.top - 20);
      ctx.font = `14px ${FONT}`;
      ctx.fillText("2", 46, ca.top - 26);
      ctx.fillStyle = s.titleColor;
      ctx.font = `19px ${FONT}`;
      ctx.fillText(s.title, ca.left + 3.5, ca.top - 22);
      if (s.note) ctx.fillText(s.note, s.noteX ?? 480, ca.top - 22);
      ctx.fillStyle = "#a3a3a3";
      ctx.font = `18px ${FONT}`;
      ctx.textAlign = "center";
      ctx.fillText("1", ca.left + 7.5, ca.top + 11);
      ctx.fillText("1", ca.right - 9, ca.top + 11);
      if (s.peakLabel) {
        ctx.fillStyle = "#138a13";
        ctx.font = `18px ${FONT}`;
        ctx.fillText(peakLabelText, xs.getPixelForValue(peakLabelTime), ys.getPixelForValue(peakLabelValue));
      }
      ctx.restore();
    },
  };
}

function makeConfig(s: PanelSpec): any {
  return {
    type: "line",
    data: { datasets: buildDatasets(s) },
    plugins: [decorPlugin(s)],
    options: {
      responsive: false,
      animation: false,
      events: [],
      layout: { padding: { top: s.padTop, right: s.padRight, left: 0, bottom: 0 } },
      plugins: { legend: { display: false }, tooltip: { enabled: false }, title: { display: false } },
      elements: { point: { radius: 0 }, line: { borderJoinStyle: "round" } },
      scales: {
        x: {
          type: "linear",
          min: s.xMin,
          max: s.xMax,
          afterBuildTicks: (sc: any) => { sc.ticks = xTickValues.map((v) => ({ value: v })); },
          afterFit: (sc: any) => { sc.height = s.xHeight; },
          grid: { color: "#ececec", lineWidth: 1, drawTicks: false },
          border: { display: false },
          ticks: { autoSkip: false, maxRotation: 0, minRotation: 0, padding: 12, color: "#000", font: { family: FONT, size: 17.5 }, callback: fmt },
          title: { display: true, text: axisTitle, color: "#000", font: { family: FONT, size: 18.5, lineHeight: 1 }, padding: { top: 0, bottom: s.titlePad } },
        },
        y: {
          type: "linear",
          min: -0.13,
          max: 1.1,
          afterBuildTicks: (sc: any) => { sc.ticks = yTickValues.map((v) => ({ value: v })); },
          afterFit: (sc: any) => { sc.width = s.yWidth; },
          grid: { color: "#ececec", lineWidth: 1, drawTicks: false },
          border: { display: false },
          ticks: { autoSkip: false, padding: 20, color: "#000", font: { family: FONT, size: 17 }, callback: fmt },
        },
      },
    },
  };
}

const topSpec: PanelSpec = {
  tic: topTic, eic: topEic, zero: topZero, integrations: topIntegrations, drops: topDrops,
  eicColor: "#ff2a2a", eicWidth: 1, fillColor: "rgba(255,40,40,0.3)", zeroColor: "#f7cfa2",
  title: topTitle, titleColor: "#ff8c00", note: topNote, noteX: 480,
  xMin: 0.06, xMax: 15.98, padTop: 52.3, padRight: 13, yWidth: 73.5, xHeight: 58.7,
  frameTop: 8, frameRight: 4, titlePad: 0.5, height: 515,
};

const bottomSpec: PanelSpec = {
  tic: bottomTic, eic: bottomEic, zero: bottomZero, integrations: bottomIntegrations, drops: bottomDrops,
  eicColor: "#3f9f3f", eicWidth: 1.3, fillColor: "rgba(40,150,40,0.3)", zeroColor: "#3f9f3f",
  title: bottomTitle, titleColor: "#008000", peakLabel: true,
  xMin: 0.06, xMax: 15.99, padTop: 69, padRight: 22, yWidth: 73, xHeight: 63.4,
  frameTop: 29, frameRight: 5, titlePad: 6.5, height: 513,
};

function Panel({ spec, top }: { spec: PanelSpec; top: number }) {
  const ref = useRef<HTMLCanvasElement | null>(null);
  useEffect(() => {
    if (!ref.current) return;
    const chart = new Chart(ref.current, makeConfig(spec));
    return () => chart.destroy();
  }, [spec]);
  return (
    <canvas
      ref={ref}
      width={1772}
      height={spec.height}
      style={{ position: "absolute", left: 0, top, width: 1772, height: spec.height }}
    />
  );
}

export default function App() {
  return (
    <div style={{ position: "absolute", left: 0, top: 0, width: 1772, height: 1028, background: "#fff", overflow: "hidden" }}>
      <Panel spec={topSpec} top={0} />
      <Panel spec={bottomSpec} top={515} />
    </div>
  );
}
